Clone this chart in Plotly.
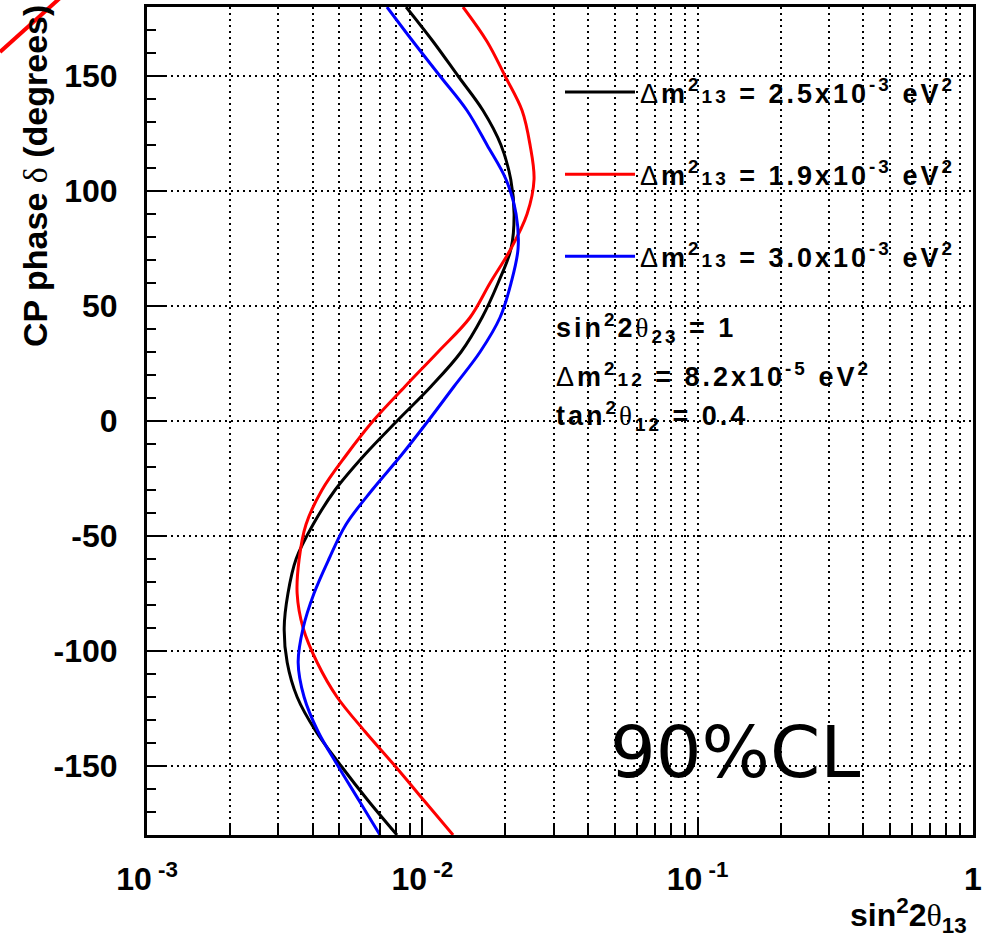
import plotly.graph_objects as go

# ---- data (CP phase in degrees, sin^2 2theta13) ----
delta = [180, 165, 150, 135, 120, 105, 90, 75, 60, 45, 30, 15, 0,
         -15, -30, -45, -60, -75, -90, -105, -120, -135, -150, -165, -180]

black_s2t = [0.00873, 0.01094, 0.01348, 0.01661, 0.01930, 0.02095, 0.02154, 0.0210, 0.01884,
             0.01648, 0.01382, 0.01075, 0.00809, 0.00614, 0.00482, 0.00401, 0.00348, 0.00325,
             0.00315, 0.00323, 0.00351, 0.00411, 0.00507, 0.00635, 0.00809]

red_s2t = [0.01405, 0.01718, 0.01997, 0.02303, 0.02462, 0.02545, 0.02401, 0.0210, 0.01762,
           0.0149, 0.0114, 0.00865, 0.00662, 0.00528, 0.00432, 0.00378, 0.00357, 0.00351,
           0.00369, 0.00415, 0.0049, 0.00619, 0.00796, 0.01014, 0.01293]

blue_s2t = [0.00744, 0.00925, 0.01159, 0.01453, 0.01718, 0.02014, 0.0219, 0.02227, 0.0210,
            0.01915, 0.0162, 0.01303, 0.01049, 0.00837, 0.00657, 0.00528, 0.00458, 0.00404,
            0.00369, 0.00354, 0.00372, 0.00418, 0.00494, 0.00589, 0.00702]

SP = '<span style="letter-spacing:3px">'
DM = '<span style="font-weight:normal">Δ</span>m<sup>2</sup><span style="font-size:19px">{}</span>'
legend_names = [
    SP + DM.format("13") + ' = 2.5x10<sup>-3</sup> eV<sup>2</sup></span>',
    SP + DM.format("13") + ' = 1.9x10<sup>-3</sup> eV<sup>2</sup></span>',
    SP + DM.format("13") + ' = 3.0x10<sup>-3</sup> eV<sup>2</sup></span>',
]
x_tickvals = [1e-3, 1e-2, 1e-1, 1]
x_ticktext = ['10<sup> -3</sup>', '10<sup> -2</sup>', '10<sup> -1</sup>', '1']
x_minorvals = [m * 10.0 ** e for e in (-3, -2, -1) for m in range(2, 10)]
y_tickvals = [-150, -100, -50, 0, 50, 100, 150]
y_ticktext = ["-150", "-100", "-50", "0", "50", "100", "150"]

FONT = "Liberation Sans, Arial, sans-serif"
THETA = '<span style="font-family:Liberation Serif;font-weight:normal">θ</span>'

fig = go.Figure()
series = [(black_s2t, "#000000", legend_names[0]),
          (red_s2t, "#ff0000", legend_names[1]),
          (blue_s2t, "#0000ff", legend_names[2])]
for i, (s, c, n) in enumerate(series):
    fig.add_trace(go.Scatter(x=s, y=delta, mode="lines", name=n, legendgroup=f"g{i}",
                             line=dict(color=c, width=3, shape="spline", smoothing=1.0)))

fig.update_layout(
    width=993, height=941,
    margin=dict(l=147, r=20, t=7, b=106),
    paper_bgcolor="white", plot_bgcolor="white",
    font=dict(family=FONT, color="black"),
    showlegend=True,
    legend=dict(x=0.5, xanchor="left", y=(835 - 68) / 828, yanchor="top",
                bgcolor="rgba(0,0,0,0)", borderwidth=0,
                font=dict(size=27, family=FONT, weight="bold"),
                tracegroupgap=44, itemwidth=70),
)

fig.update_xaxes(
    type="log", range=[-3, 0], automargin=False,
    tickmode="array", tickvals=x_tickvals, ticktext=x_ticktext,
    ticks="inside", ticklen=17, tickwidth=2, tickcolor="black",
    tickfont=dict(size=32, family=FONT, weight="bold"), ticklabelstandoff=14,
    showline=True, linewidth=3, linecolor="black", mirror=True,
    showgrid=True, gridcolor="black", gridwidth=2, griddash="2px,4px",
    minor=dict(tickmode="array", tickvals=x_minorvals, ticks="inside", ticklen=10,
               tickwidth=2, tickcolor="black", showgrid=True, gridcolor="black",
               gridwidth=2, griddash="2px,4px"),
    zeroline=False,
)
fig.update_yaxes(
    range=[-180, 180], automargin=False,
    tickmode="array", tickvals=y_tickvals, ticktext=y_ticktext,
    ticks="inside", ticklen=18, tickwidth=2, tickcolor="black",
    tickfont=dict(size=32, family=FONT, weight="bold"), ticklabelstandoff=20,
    showline=True, linewidth=3, linecolor="black", mirror=True,
    showgrid=True, gridcolor="black", gridwidth=2, griddash="2px,4px",
    minor=dict(dtick=10, ticks="inside", ticklen=9, tickwidth=2, tickcolor="black", showgrid=False),
    zeroline=False,
)

def py(p):
    return (835 - p) / 828

def px(p):
    return (p - 147) / 826

anns = [
    (SP + 'sin<sup>2</sup>2' + THETA + '<sub>23</sub> = 1</span>', 345),
    (SP + DM.format("12") + ' = 8.2x10<sup>-5</sup> eV<sup>2</sup></span>', 390),
    (SP + 'tan<sup>2</sup>' + THETA + '<sub>12</sub> = 0.4</span>', 433),
]
for text, base in anns:
    fig.add_annotation(xref="paper", yref="paper", x=px(554), y=py(base + 4), text=text,
                       xanchor="left", yanchor="bottom", showarrow=False,
                       font=dict(size=27, family=FONT, weight="bold"))

fig.add_annotation(xref="paper", yref="paper", x=px(735), y=py(796), text="90%CL",
                   xanchor="center", yanchor="bottom", showarrow=False,
                   font=dict(size=72, family="DejaVu Sans", color="black"))

fig.add_annotation(xref="paper", yref="paper", x=px(969), y=py(940),
                   text='sin<sup>2</sup>2' + THETA + '<sub>13</sub>',
                   xanchor="right", yanchor="bottom", showarrow=False,
                   font=dict(size=32, family=FONT, weight="bold"))

fig.add_annotation(xref="paper", yref="paper", x=px(14), y=py(3),
                   text='CP phase <span style="font-family:Liberation Serif;font-weight:normal">δ</span> (degrees)',
                   textangle=-90, xanchor="left", yanchor="top", showarrow=False,
                   font=dict(size=34, family=FONT, weight="bold"))

fig.add_shape(type="line", xref="paper", yref="paper", x0=px(0), y0=py(52), x1=px(60), y1=py(-2),
              line=dict(color="red", width=4))

fig.write_html("out.html", config={"displayModeBar": False},
               post_script="document.body.style.margin='0px';")
